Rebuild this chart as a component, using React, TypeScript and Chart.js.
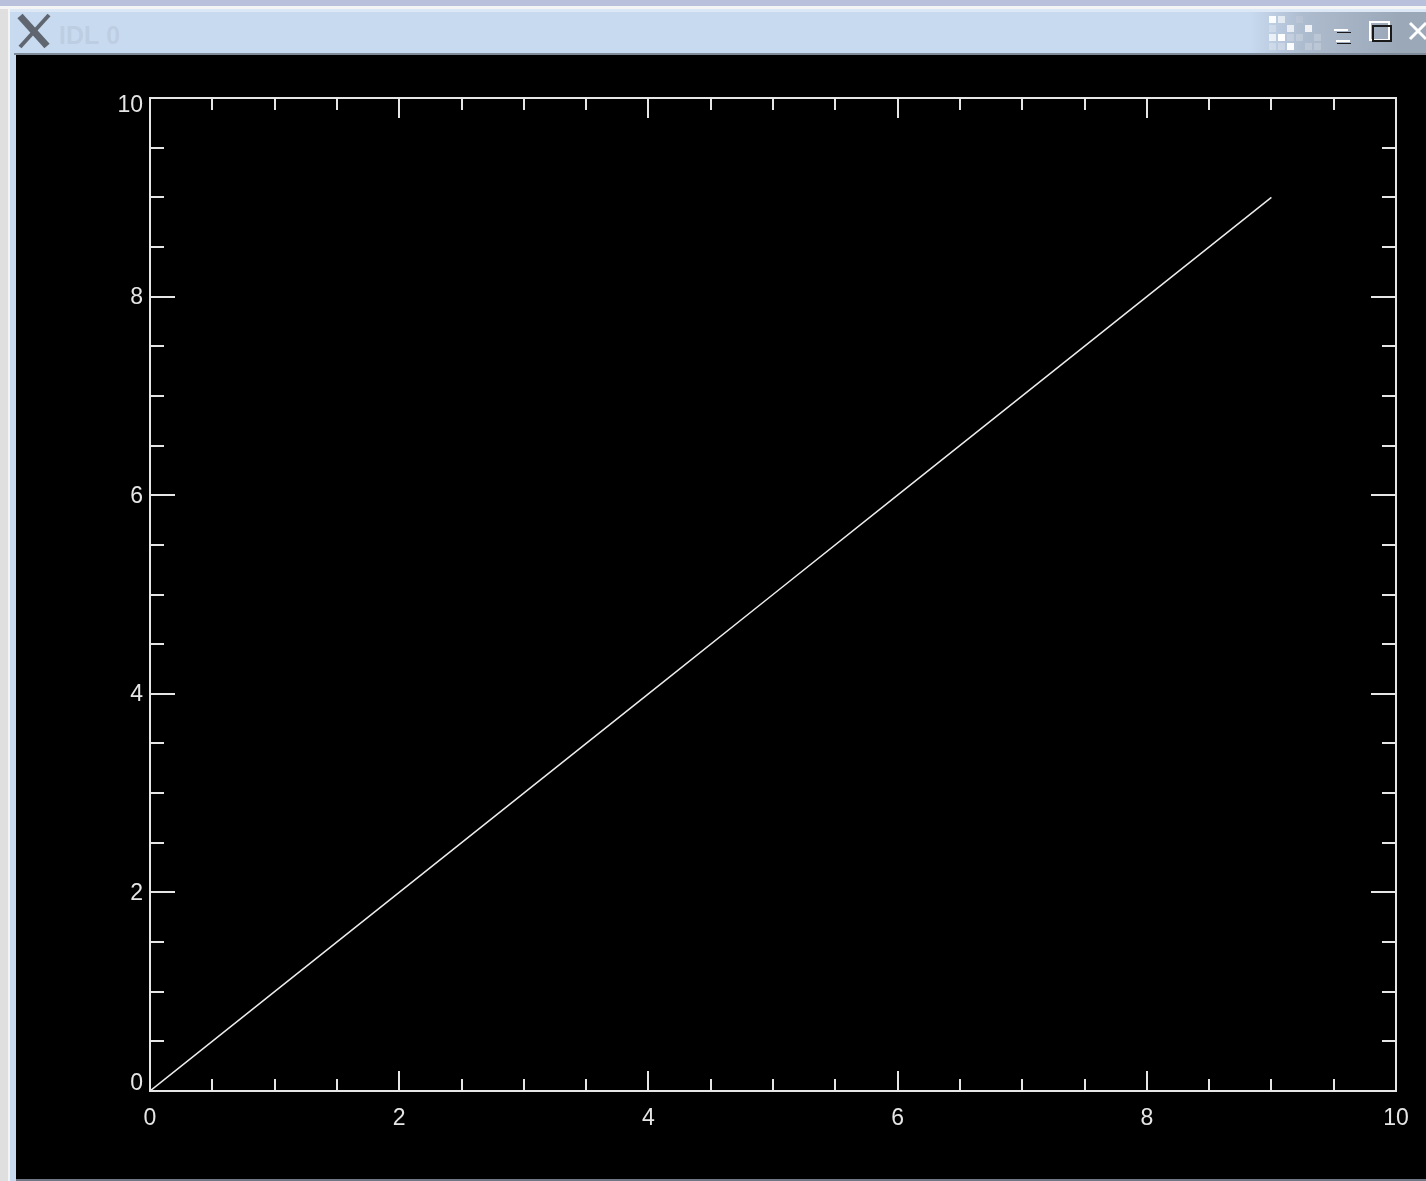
import React, { useEffect, useRef } from "react";
import { Chart, registerables } from "chart.js";

Chart.register(...registerables);

const xValues = [0, 1, 2, 3, 4, 5, 6, 7, 8, 9];
const yValues = [0, 1, 2, 3, 4, 5, 6, 7, 8, 9];
const axisMin = 0;
const axisMax = 10;
const minorStep = 0.5;
const labelStep = 2;
const windowTitle = "IDL 0";

const FG = "#e6e6e6";
const FONT = { family: "'Liberation Sans', Arimo, sans-serif", size: 23, weight: "normal" as const };

const isMajor = (v: number) => Math.abs(v / labelStep - Math.round(v / labelStep)) < 1e-6;

const chromePlugin = {
  id: "chrome",
  beforeDraw(chart: any) {
    const { ctx, width, height } = chart;
    ctx.save();
    ctx.fillStyle = "#dfdfdf";
    ctx.fillRect(0, 0, width, height);
    ctx.fillStyle = "#b9c0dc";
    ctx.fillRect(0, 0, width, 6);
    ctx.fillStyle = "#f4f4f4";
    ctx.fillRect(0, 6, width, 3);
    ctx.fillRect(8, 6, 2, height);
    const g = ctx.createLinearGradient(1250, 0, 1400, 0);
    g.addColorStop(0, "#c8daf0");
    g.addColorStop(0.35, "#aebccf");
    g.addColorStop(1, "#9aa8b8");
    ctx.fillStyle = "#c8daf0";
    ctx.fillRect(10, 9, width - 10, height - 9);
    ctx.fillStyle = g;
    ctx.fillRect(1250, 12, width - 1250, 41);
    ctx.fillStyle = "#dce8f6";
    ctx.fillRect(10, 9, width - 10, 3);
    ctx.fillStyle = "#7f8a98";
    ctx.fillRect(14, 53, width - 14, 2);
    ctx.fillStyle = "#000000";
    ctx.fillRect(16, 55, width - 16, height - 57);
    ctx.fillStyle = "#6f7884";
    ctx.fillRect(16, height - 2, width - 16, 2);

    // window icon
    ctx.strokeStyle = "#5f6670";
    ctx.lineWidth = 7;
    ctx.beginPath();
    ctx.moveTo(20, 16);
    ctx.lineTo(47, 46);
    ctx.stroke();
    ctx.lineWidth = 4;
    ctx.beginPath();
    ctx.moveTo(49, 15);
    ctx.lineTo(20, 47);
    ctx.stroke();

    // window title
    ctx.fillStyle = "#bdcde2";
    ctx.font = "bold 25px 'Liberation Sans', sans-serif";
    ctx.textBaseline = "alphabetic";
    ctx.textAlign = "left";
    ctx.fillText(windowTitle, 59, 44);

    // title-bar dots
    const dots = [
      [1269, 16, 0.95], [1278, 16, 0.6], [1296, 16, 0.1],
      [1269, 25, 0.25], [1287, 25, 0.7], [1305, 25, 0.8],
      [1269, 34, 0.7], [1278, 34, 1], [1287, 34, 0.2], [1296, 34, 0.2], [1314, 34, 0.2],
      [1269, 43, 0.25], [1278, 43, 0.25], [1287, 43, 0.95], [1305, 43, 0.2], [1314, 43, 0.2],
    ];
    for (const [x, y, a] of dots) {
      ctx.fillStyle = `rgba(255,255,255,${a})`;
      ctx.fillRect(x, y, 7, 7);
    }

    // window buttons
    ctx.fillStyle = "#ffffff";
    ctx.fillRect(1334, 29, 14, 2);
    ctx.fillRect(1336, 40, 14, 2);
    ctx.fillStyle = "#1a1a1a";
    ctx.fillRect(1337, 32, 14, 1);
    ctx.fillRect(1337, 43, 14, 1);
    ctx.strokeStyle = "#ffffff";
    ctx.lineWidth = 2;
    ctx.strokeRect(1370, 22, 19, 18);
    ctx.strokeStyle = "#1a1a1a";
    ctx.strokeRect(1373, 26, 18, 15);
    ctx.strokeStyle = "#ffffff";
    ctx.lineWidth = 3;
    ctx.beginPath();
    ctx.moveTo(1410, 23);
    ctx.lineTo(1426, 39);
    ctx.moveTo(1410, 39);
    ctx.lineTo(1426, 23);
    ctx.stroke();
    ctx.restore();

    // Labels at both ends of the y axis sit inside the frame, as in the reference.
    const y = chart.scales.y;
    for (const item of y.getLabelItems()) {
      const base = item.options.translation[1];
      if (item.label === "10") item.options.translation[1] = y.getPixelForValue(axisMax) + 8;
      else if (item.label === "0") item.options.translation[1] = y.getPixelForValue(axisMin) - 7;
      else item.options.translation[1] = base + 1;
    }
  },
  afterDraw(chart: any) {
    const { ctx, chartArea: a, scales } = chart;
    ctx.save();
    ctx.strokeStyle = FG;
    ctx.lineWidth = 2;
    ctx.strokeRect(a.left, a.top, a.right - a.left, a.bottom - a.top);
    ctx.beginPath();
    for (const t of scales.x.ticks) {
      if (t.value <= axisMin || t.value >= axisMax) continue;
      const p = Math.round(scales.x.getPixelForValue(t.value));
      const len = isMajor(t.value) ? 20 : 12;
      ctx.moveTo(p, a.bottom);
      ctx.lineTo(p, a.bottom - len);
      ctx.moveTo(p, a.top);
      ctx.lineTo(p, a.top + len);
    }
    for (const t of scales.y.ticks) {
      if (t.value <= axisMin || t.value >= axisMax) continue;
      const p = Math.round(scales.y.getPixelForValue(t.value));
      const len = isMajor(t.value) ? 25 : 14;
      ctx.moveTo(a.left, p);
      ctx.lineTo(a.left + len, p);
      ctx.moveTo(a.right, p);
      ctx.lineTo(a.right - len, p);
    }
    ctx.stroke();
    ctx.restore();
  },
};

const tickLabel = (v: any) => (isMajor(Number(v)) ? String(v) : "");

export default function App() {
  const ref = useRef<HTMLCanvasElement>(null);
  useEffect(() => {
    document.body.style.margin = "0";
    document.body.style.background = "#000";
    const chart = new Chart(ref.current!, {
      type: "line",
      data: {
        datasets: [
          {
            label: "y",
            data: xValues.map((x, i) => ({ x, y: yValues[i] })),
            borderColor: "#ececec",
            borderWidth: 1.5,
            pointRadius: 0,
            tension: 0,
          },
        ],
      },
      options: {
        animation: false,
        responsive: false,
        devicePixelRatio: 1,
        layout: { padding: { left: 50, top: 98, right: 30, bottom: 30 } },
        plugins: { legend: { display: false }, title: { display: false }, tooltip: { enabled: false } },
        scales: {
          x: {
            type: "linear",
            min: axisMin,
            max: axisMax,
            afterFit: (s: any) => { s.height = 60; },
            grid: { display: false, drawTicks: false },
            border: { display: false },
            ticks: { stepSize: minorStep, autoSkip: false, maxRotation: 0, callback: tickLabel, color: FG, font: FONT, padding: 14 },
          },
          y: {
            type: "linear",
            min: axisMin,
            max: axisMax,
            afterFit: (s: any) => { s.width = 100; },
            grid: { display: false, drawTicks: false },
            border: { display: false },
            ticks: { stepSize: minorStep, autoSkip: false, callback: tickLabel, color: FG, font: FONT, padding: 7 },
          },
        },
      } as any,
      plugins: [chromePlugin],
    });
    return () => chart.destroy();
  }, []);
  return <canvas ref={ref} width={1426} height={1181} style={{ display: "block", width: 1426, height: 1181 }} />;
}
